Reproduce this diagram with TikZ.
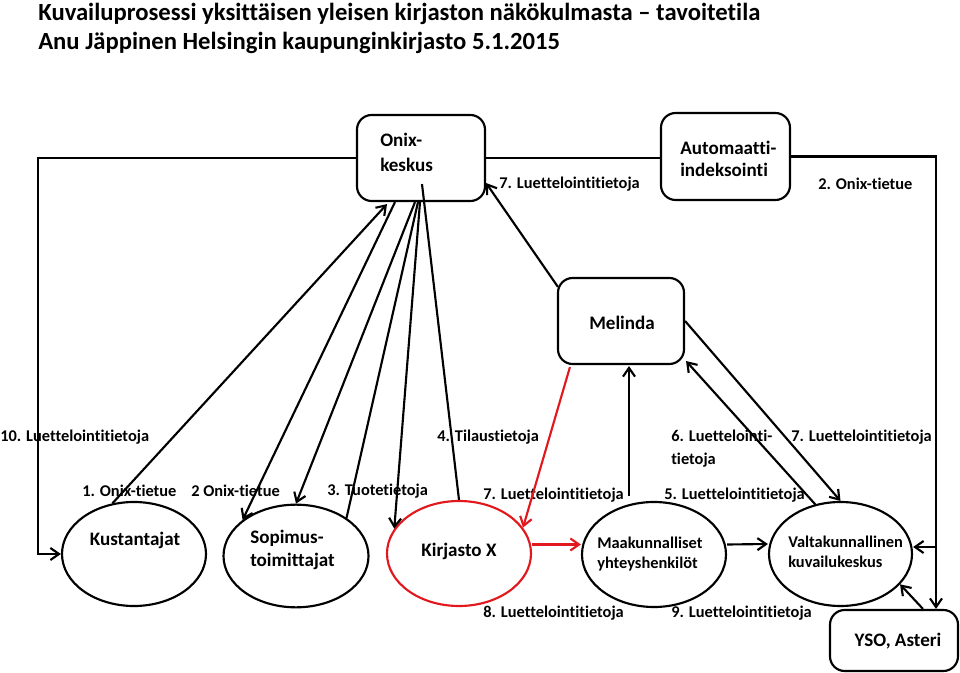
\documentclass[tikz,border=0pt]{standalone}
\usepackage{fontspec}
\setmainfont{Carlito}[Ligatures=NoCommon]
\usetikzlibrary{shapes.geometric,arrows.meta,calc}
\definecolor{myred}{RGB}{225,25,30}
\begin{document}
\begin{tikzpicture}[x=0.75pt,y=-0.75pt,
  box/.style={draw, line width=1.6pt, rounded corners=11pt, inner sep=0pt},
  ell/.style={draw, ellipse, line width=1.6pt, inner sep=0pt},
  lbl/.style={font=\bfseries\fontsize{12.3}{17}\selectfont, inner sep=0pt, anchor=west},
  small/.style={font=\bfseries\fontsize{12.3}{15}\selectfont, inner sep=0pt, anchor=west, align=left},
  big/.style={font=\bfseries\fontsize{14.3}{18.5}\selectfont, inner sep=0pt},
  ttl/.style={font=\bfseries\fontsize{18.5}{22}\selectfont, inner sep=0pt, anchor=west},
  conn/.style={line width=1.6pt},
  arr/.style={conn, -{Straight Barb[length=6.5pt,width=9pt,line width=1.6pt]}},
  redc/.style={draw=myred}
]
\useasboundingbox (0,0) rectangle (960,673);

% title
\node[ttl] (t1) at (38,14) {Kuvailuprosessi yksittäisen yleisen kirjaston näkökulmasta -- tavoitetila};
\node[ttl] (t2) at (38,43) {Anu Jäppinen Helsingin kaupunginkirjasto 5.1.2015};

% boxes
\node[box, minimum width=96pt, minimum height=64.5pt] (onix) at (421,158) {};
\node[box, minimum width=96.75pt, minimum height=65.25pt] (auto) at (725.5,156.5) {};
\node[box, minimum width=94.5pt, minimum height=64.5pt] (melinda) at (621,321) {};
\node[box, minimum width=96pt, minimum height=45.75pt] (yso) at (894,640.5) {};

% ellipses
\node[ell, minimum width=108pt, minimum height=78pt] (kust) at (134,554) {};
\node[ell, minimum width=108.75pt, minimum height=77pt] (sopi) at (296,556) {};
\node[ell, redc, minimum width=108pt, minimum height=78.75pt] (kirj) at (459,553.5) {};
\node[ell, minimum width=108pt, minimum height=78.75pt] (maak) at (654,554.5) {};
\node[ell, minimum width=107.25pt, minimum height=78pt] (valt) at (840.5,554) {};

% node texts
\node[big, anchor=west, align=left, font=\bfseries\fontsize{14.3}{18.8}\selectfont] (onixt) at (380,152.5) {Onix-\\keskus};
\node[big, anchor=west, align=left, font=\bfseries\fontsize{14.3}{16.5}\selectfont] (autot) at (680,159) {Automaatti-\\indeksointi};
\node[big] (melt) at (622,323) {Melinda};
\node[big] (kustt) at (135,540) {Kustantajat};
\node[big, anchor=west, align=left, font=\bfseries\fontsize{14.3}{17.2}\selectfont] (sopit) at (250,549.5) {Sopimus-\\toimittajat};
\node[big] (kirjt) at (459,551) {Kirjasto X};
\node[small] (maakt) at (597,554) {Maakunnalliset\\yhteyshenkilöt};
\node[small] (valtt) at (788,552) {Valtakunnallinen\\kuvailukeskus};
\node[big] (ysot) at (898,641) {YSO, Asteri};

% labels
\node[lbl] (l10) at (0,437) {10. Luettelointitietoja};
\node[lbl] (l1) at (82,491) {1. Onix-tietue};
\node[lbl] (l2) at (191,491) {2 Onix-tietue};
\node[lbl] (l3) at (327,491) {3. Tuotetietoja};
\node[lbl] (l4) at (437,437) {4. Tilaustietoja};
\node[lbl] (l7a) at (483,495) {7. Luettelointitietoja};
\node[lbl, align=left] (l6) at (671,448.5) {6. Luettelointi-\\tietoja};
\node[lbl] (l7b) at (791,437) {7. Luettelointitietoja};
\node[lbl] (l5) at (664,495) {5. Luettelointitietoja};
\node[lbl] (l8) at (483,613) {8. Luettelointitietoja};
\node[lbl] (l9) at (671,613) {9. Luettelointitietoja};
\node[lbl] (l7c) at (499,184) {7. Luettelointitietoja};
\node[lbl] (l2b) at (818,184) {2. Onix-tietue};

% helper coordinates
\coordinate (c10) at (38,554);
\coordinate (r1) at (936,547);

% connectors
\draw[arr] (onix.west) -| (c10) -- (kust.west);
\draw[conn] (onix.east) -- (onix.east -| auto.west);
\draw[arr] (auto.east) -| (r1) -- (r1 -| valt.east);
\draw[arr] (r1) -- (r1 |- yso.north);
\draw[arr] ($(yso.north)+(29,0)$) -- (valt.-27);
\draw[arr] ($(melinda.north west)+(1,10)$) -- ($(onix.east)+(0,25)$);
\draw[arr] (kust.113) -- ($(onix.south)+(-34,2)$);
\draw[arr] ($(onix.south)+(-26,0)$) -- (sopi.146);
\draw[arr] ($(onix.south)+(-6,0)$) -- (sopi.north);
\draw[conn] (sopi.37) -- ($(onix.south)+(-3,0)$);
\draw[arr] ($(onix.south)+(-1,0)$) -- (kirj.159);
\draw[conn] (kirj.north) -- ($(onix.south)+(1,-18)$);
\draw[arr, myred] ($(melinda.south west)+(13,2)$) -- (kirj.22);
\draw[arr] ($(maak.north)+(-25,-5)$) -- ($(melinda.south)+(8,1)$);
\draw[arr] (valt.117) -- ($(melinda.south east)+(1,-4)$);
\draw[arr] (melinda.east) -- (valt.north);
\draw[arr, myred] ($(kirj.east)+(0,-9)$) -- ($(maak.west)+(0,-10)$);
\draw[arr] ($(maak.east)+(0,-10)$) -- ($(valt.west)+(0,-10)$);
\end{tikzpicture}
\end{document}
